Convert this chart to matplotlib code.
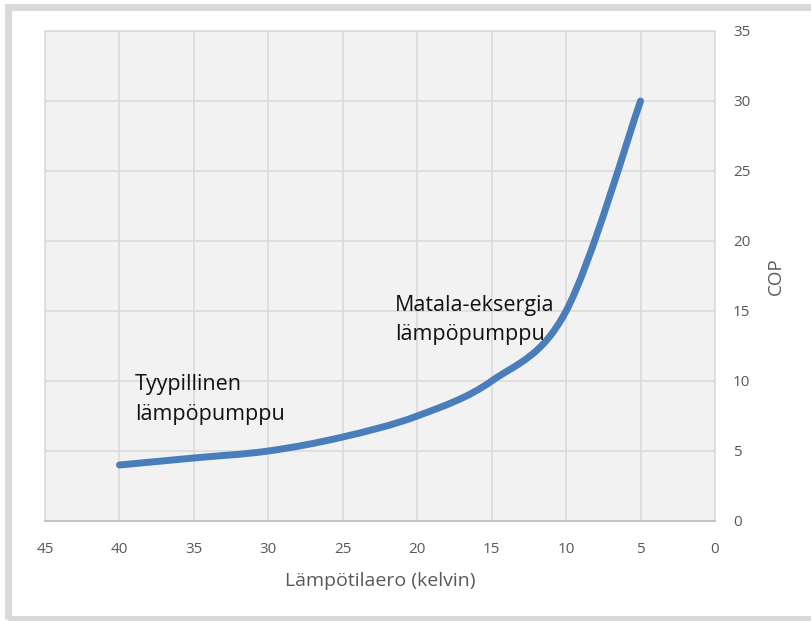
import numpy as np
import matplotlib.pyplot as plt
from matplotlib.path import Path
from matplotlib.patches import PathPatch, Rectangle

# Lämpötilaero (K) ja COP
lampotilaero = [40, 35, 30, 25, 20, 15, 10, 5]
cop = [4, 4.5, 5, 6, 7.5, 10, 15, 30]

x_ticks = [45, 40, 35, 30, 25, 20, 15, 10, 5, 0]
y_ticks = [0, 5, 10, 15, 20, 25, 30, 35]

plt.rcParams['font.family'] = ['Open Sans', 'DejaVu Sans']


def smooth_path(xs, ys):
    # pehmennetty viiva (Excel-tyylinen Bezier-käyrä datapisteiden kautta)
    p = np.column_stack([xs, ys]).astype(float)
    n = len(p)
    verts = [p[0]]
    codes = [Path.MOVETO]
    for i in range(n - 1):
        p0 = p[i - 1] if i > 0 else p[i]
        p3 = p[i + 2] if i + 2 < n else p[i + 1]
        c1 = p[i] + (p[i + 1] - p0) / 6
        c2 = p[i + 1] - (p3 - p[i]) / 6
        verts += [c1, c2, p[i + 1]]
        codes += [Path.CURVE4] * 3
    return Path(verts, codes)


W, H = 811, 621
fig = plt.figure(figsize=(W / 100, H / 100), dpi=100, facecolor='white')

# kehys kuvan ympärillä (oikea reuna rajautuu kuvan ulkopuolelle)
fig.patches.append(Rectangle((8 / W, 2 / H), 830 / W, 612 / H, transform=fig.transFigure,
                             fill=False, edgecolor='#d9d9d9', linewidth=5.0))

ax = fig.add_axes([45 / W, (H - 521) / H, 670 / W, 490 / H])
ax.set_facecolor('#f2f2f2')

ax.add_patch(PathPatch(smooth_path(lampotilaero, cop), facecolor='none', edgecolor='#4a7ebb',
                       linewidth=5, capstyle='round', joinstyle='round', zorder=3))

ax.set_xlim(45, 0)
ax.set_ylim(0, 35)
ax.set_xticks(x_ticks)
ax.set_yticks(y_ticks)
ax.yaxis.tick_right()
ax.yaxis.set_label_position('right')
ax.grid(True, color='#d9d9d9', linewidth=1.1)
ax.set_axisbelow(True)

for s in ['top', 'left', 'right']:
    ax.spines[s].set_color('#d9d9d9')
    ax.spines[s].set_linewidth(1.1)
ax.spines['bottom'].set_color('#bfbfbf')
ax.spines['bottom'].set_linewidth(1.3)

ax.tick_params(axis='both', length=0, colors='#595959', labelsize=11)
ax.tick_params(axis='x', pad=15)
ax.tick_params(axis='y', pad=13)

ax.set_xlabel('Lämpötilaero (kelvin)', color='#595959', fontsize=14, labelpad=11)
ax.set_ylabel('COP', color='#595959', fontsize=13.5, labelpad=12)

ax.text(38.96, 10.5, 'Tyypillinen\nlämpöpumppu', fontsize=15.5, color='#111111',
        ha='left', va='top', linespacing=1.55)
ax.text(21.5, 16.17, 'Matala-eksergia\nlämpöpumppu', fontsize=15.5, color='#111111',
        ha='left', va='top', linespacing=1.55)

plt.savefig('out.png', dpi=100)
